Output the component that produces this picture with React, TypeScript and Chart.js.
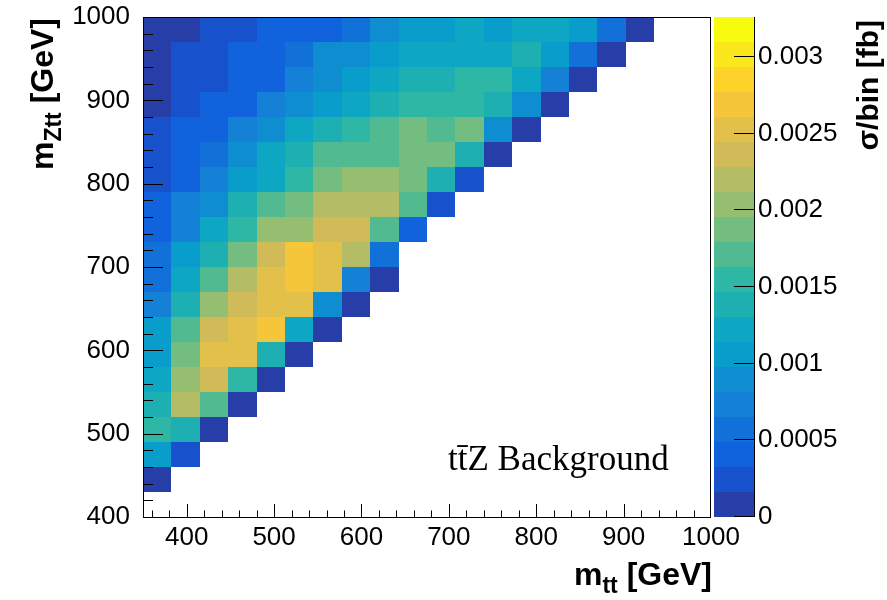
import React, { useEffect, useRef } from "react";
import { Chart, registerables } from "chart.js";

Chart.register(...registerables);

// ---- binning ----
const mttEdges = [350, 382.5, 415, 447.5, 480, 512.5, 545, 577.5, 610, 642.5, 675, 707.5, 740, 772.5, 805, 837.5, 870, 902.5, 935, 967.5, 1000];
const mZttEdges = [400, 430, 460, 490, 520, 550, 580, 610, 640, 670, 700, 730, 760, 790, 820, 850, 880, 910, 940, 970, 1000];

// ---- tick labels ----
const xTickValues = [400, 500, 600, 700, 800, 900, 1000];
const yTickValues = [400, 500, 600, 700, 800, 900, 1000];
const zTickValues = [0, 0.0005, 0.001, 0.0015, 0.002, 0.0025, 0.003];
const zTickLabels = ["0", "0.0005", "0.001", "0.0015", "0.002", "0.0025", "0.003"];
const zMax = 0.00326;
const nContours = 20;

// ---- sigma/bin [fb], one array per m_Ztt bin (bottom to top), entries per m_tt bin ----
const row400: number[] = [];
const row430 = [0.00008];
const row460 = [0.00106, 0.00025];
const row490 = [0.00155, 0.00139, 0.00008];
const row520 = [0.00139, 0.0022, 0.00171, 0.00008];
const row550 = [0.00122, 0.00204, 0.00236, 0.00155, 0.00008];
const row580 = [0.00106, 0.00188, 0.00253, 0.00253, 0.00139, 0.00008];
const row610 = [0.00106, 0.00171, 0.00236, 0.00253, 0.00269, 0.00122, 0.00008];
const row640 = [0.00073, 0.00139, 0.00204, 0.00236, 0.00253, 0.00253, 0.0009, 0.00008];
const row670 = [0.00057, 0.00122, 0.00171, 0.0022, 0.00253, 0.00269, 0.00253, 0.00073, 0.00008];
const row700 = [0.00057, 0.00106, 0.00139, 0.00188, 0.00236, 0.00269, 0.00253, 0.0022, 0.00057];
const row730 = [0.00041, 0.00073, 0.00122, 0.00155, 0.00204, 0.00204, 0.00236, 0.00236, 0.00171, 0.00041];
const row760 = [0.00041, 0.00073, 0.0009, 0.00139, 0.00171, 0.00188, 0.0022, 0.0022, 0.0022, 0.00171, 0.00025];
const row790 = [0.00025, 0.00041, 0.00073, 0.00106, 0.00122, 0.00155, 0.00188, 0.00204, 0.00204, 0.00188, 0.00139, 0.00025];
const row820 = [0.00025, 0.00041, 0.00057, 0.0009, 0.00122, 0.00139, 0.00171, 0.00171, 0.00171, 0.00188, 0.00188, 0.00139, 0.00008];
const row850 = [0.00025, 0.00041, 0.00041, 0.00073, 0.0009, 0.00122, 0.00139, 0.00155, 0.00171, 0.00188, 0.00171, 0.00188, 0.0009, 0.00008];
const row880 = [0.00008, 0.00025, 0.00041, 0.00041, 0.00073, 0.0009, 0.00106, 0.00122, 0.00139, 0.00155, 0.00155, 0.00155, 0.00139, 0.0009, 0.00008];
const row910 = [0.00008, 0.00025, 0.00025, 0.00041, 0.00041, 0.00073, 0.0009, 0.00106, 0.00122, 0.00139, 0.00139, 0.00155, 0.00155, 0.00122, 0.00073, 0.00008];
const row940 = [0.00008, 0.00025, 0.00025, 0.00041, 0.00041, 0.00057, 0.0009, 0.0009, 0.00106, 0.00122, 0.00122, 0.00122, 0.00122, 0.00139, 0.00106, 0.00057, 0.00008];
const row970 = [0.00008, 0.00008, 0.00025, 0.00025, 0.00041, 0.00041, 0.00041, 0.00057, 0.0009, 0.00106, 0.00106, 0.00122, 0.00106, 0.00122, 0.00122, 0.00106, 0.00057, 0.00008];

const rows = [row400, row430, row460, row490, row520, row550, row580, row610, row640, row670, row700, row730, row760, row790, row820, row850, row880, row910, row940, row970];

// ---- ROOT kBird palette ----
const birdStops = [0.0, 0.125, 0.25, 0.375, 0.5, 0.625, 0.75, 0.875, 1.0];
const birdR = [0.2082, 0.0592, 0.078, 0.0232, 0.1802, 0.5301, 0.8186, 0.9956, 0.9764];
const birdG = [0.1664, 0.3599, 0.5041, 0.6419, 0.7178, 0.7492, 0.7328, 0.7862, 0.9832];
const birdB = [0.5293, 0.8684, 0.8385, 0.7914, 0.6425, 0.4662, 0.3499, 0.1968, 0.0539];

function bird(f: number): string {
  let k = 0;
  while (k < birdStops.length - 2 && f > birdStops[k + 1]) k++;
  const t = (f - birdStops[k]) / (birdStops[k + 1] - birdStops[k]);
  const c = (a: number[]) => Math.round(255 * (a[k] + (a[k + 1] - a[k]) * t));
  return `rgb(${c(birdR)},${c(birdG)},${c(birdB)})`;
}
function levelColor(level: number): string {
  const idx = Math.floor(((level + 0.99) * 255) / nContours);
  return bird(Math.min(254, idx) / 254);
}
function valueColor(v: number): string {
  const level = Math.min(nContours - 1, Math.floor(v / (zMax / nContours)));
  return levelColor(level);
}

const SANS = "'Liberation Sans', Arial, Helvetica, sans-serif";
const SERIF = "'Liberation Serif', 'Times New Roman', serif";

type Part = { text: string; size: number; dy: number };
function partsWidth(ctx: CanvasRenderingContext2D, parts: Part[]) {
  let w = 0;
  for (const p of parts) {
    ctx.font = `bold ${p.size}px ${SANS}`;
    w += ctx.measureText(p.text).width;
  }
  return w;
}
function drawParts(ctx: CanvasRenderingContext2D, parts: Part[], xEnd: number) {
  let x = xEnd - partsWidth(ctx, parts);
  ctx.textAlign = "left";
  ctx.textBaseline = "alphabetic";
  for (const p of parts) {
    ctx.font = `bold ${p.size}px ${SANS}`;
    ctx.fillText(p.text, x, p.dy);
    x += ctx.measureText(p.text).width;
  }
}

const heatmapPlugin = {
  id: "heatmap2d",
  beforeDatasetsDraw(chart: any) {
    const { ctx, chartArea, scales } = chart;
    const xs = scales.x;
    const ys = scales.y;
    ctx.save();
    rows.forEach((row: number[], j: number) => {
      const yb = Math.round(ys.getPixelForValue(mZttEdges[j]));
      const yt = Math.round(ys.getPixelForValue(mZttEdges[j + 1]));
      row.forEach((v: number, i: number) => {
        if (!(v > 0)) return;
        const xl = Math.round(xs.getPixelForValue(mttEdges[i]));
        const xr = Math.round(xs.getPixelForValue(mttEdges[i + 1]));
        ctx.fillStyle = valueColor(v);
        ctx.fillRect(xl, yt, xr - xl, yb - yt);
      });
    });

    // frame
    ctx.strokeStyle = "#000";
    ctx.lineWidth = 1;
    ctx.strokeRect(chartArea.left + 0.5, chartArea.top + 0.5, chartArea.right - chartArea.left - 1, chartArea.bottom - chartArea.top);

    // inward ticks
    ctx.beginPath();
    for (let v = 360; v < 1000; v += 20) {
      const px = Math.round(xs.getPixelForValue(v)) + 0.5;
      const len = v % 100 === 0 ? 13 : 6.5;
      ctx.moveTo(px, chartArea.bottom);
      ctx.lineTo(px, chartArea.bottom - len);
    }
    for (let v = 420; v < 1000; v += 20) {
      const py = Math.round(ys.getPixelForValue(v)) + 0.5;
      const len = v % 100 === 0 ? 20 : 10;
      ctx.moveTo(chartArea.left, py);
      ctx.lineTo(chartArea.left + len, py);
    }
    ctx.stroke();
    ctx.restore();
  },
  afterDraw(chart: any) {
    const { ctx, chartArea, scales } = chart;
    const zs = scales.z;
    ctx.save();
    // colour bar
    const bx0 = chartArea.right + 3;
    const bx1 = chartArea.right + 43;
    const dz = zMax / nContours;
    for (let l = 0; l < nContours; l++) {
      const yb = Math.round(zs.getPixelForValue(l * dz));
      const yt = Math.round(zs.getPixelForValue((l + 1) * dz));
      ctx.fillStyle = levelColor(l);
      ctx.fillRect(bx0, yt, bx1 - bx0, yb - yt);
    }
    ctx.strokeStyle = "#000";
    ctx.lineWidth = 1;
    ctx.beginPath();
    ctx.moveTo(bx1 + 0.5, chartArea.top);
    ctx.lineTo(bx1 + 0.5, chartArea.bottom);
    for (const v of zTickValues) {
      const py = Math.round(zs.getPixelForValue(v)) - 0.5;
      ctx.moveTo(bx1, py);
      ctx.lineTo(bx1 - 20, py);
    }
    ctx.stroke();

    ctx.fillStyle = "#000";
    // x title
    ctx.save();
    ctx.translate(0, 585);
    drawParts(ctx, [
      { text: "m", size: 32, dy: 0 },
      { text: "tt", size: 23, dy: 8 },
      { text: " [GeV]", size: 32, dy: 0 },
    ], chartArea.right + 1);
    ctx.restore();

    // y title
    ctx.save();
    ctx.translate(53, 18);
    ctx.rotate(-Math.PI / 2);
    drawParts(ctx, [
      { text: "m", size: 32, dy: 0 },
      { text: "Ztt", size: 23, dy: 8 },
      { text: " [GeV]", size: 32, dy: 0 },
    ], 0);
    ctx.restore();

    // z title
    ctx.save();
    ctx.translate(878, 20);
    ctx.rotate(-Math.PI / 2);
    drawParts(ctx, [{ text: "σ/bin [fb]", size: 30, dy: 0 }], 0);
    ctx.restore();

    // label
    ctx.font = `35px ${SERIF}`;
    ctx.textAlign = "left";
    ctx.textBaseline = "alphabetic";
    ctx.fillText("tt\u0304Z Background", chartArea.left + 305, chartArea.bottom - 47);
    ctx.restore();
  },
};

const hiddenTicks = (len: number) => ({
  display: true,
  drawOnChartArea: false,
  drawTicks: true,
  tickLength: len,
  tickColor: "rgba(0,0,0,0)",
  color: "rgba(0,0,0,0)",
});

export default function App() {
  const ref = useRef<HTMLCanvasElement | null>(null);
  useEffect(() => {
    if (!ref.current) return;
    const tickFont = { family: SANS, size: 26 };
    const chart = new Chart(ref.current, {
      type: "scatter",
      data: { datasets: [{ label: "ttZ", data: [], pointRadius: 0 }] },
      options: {
        animation: false,
        responsive: false,
        devicePixelRatio: 1,
        layout: { padding: { top: 17, left: 0, right: 0, bottom: 0 } },
        plugins: { legend: { display: false }, tooltip: { enabled: false } },
        scales: {
          x: {
            type: "linear",
            position: "bottom",
            min: 350,
            max: 1000,
            afterBuildTicks: (s: any) => { s.ticks = xTickValues.map((v) => ({ value: v })); },
            afterFit: (s: any) => { s.height = 83; },
            grid: hiddenTicks(5),
            border: { display: false },
            ticks: { font: tickFont, color: "#000", padding: 0, maxRotation: 0, autoSkip: false, callback: (v: any) => String(v) },
          },
          y: {
            type: "linear",
            position: "left",
            min: 400,
            max: 1000,
            afterBuildTicks: (s: any) => { s.ticks = yTickValues.map((v) => ({ value: v })); },
            afterFit: (s: any) => { s.width = 143; },
            grid: hiddenTicks(13),
            border: { display: false },
            ticks: { font: tickFont, color: "#000", padding: 0, autoSkip: false, callback: (v: any) => String(v) },
          },
          z: {
            type: "linear",
            position: "right",
            min: 0,
            max: zMax,
            afterBuildTicks: (s: any) => { s.ticks = zTickValues.map((v) => ({ value: v })); },
            afterFit: (s: any) => { s.width = 176; },
            grid: hiddenTicks(47),
            border: { display: false },
            ticks: {
              font: tickFont,
              color: "#000",
              padding: 0,
              autoSkip: false,
              callback: (v: any) => {
                const k = zTickValues.findIndex((t) => Math.abs(t - v) < 1e-9);
                return k >= 0 ? zTickLabels[k] : "";
              },
            },
          },
        },
      },
      plugins: [heatmapPlugin],
    } as any);
    return () => chart.destroy();
  }, []);
  return (
    <div style={{ position: "absolute", left: 0, top: 0, width: 887, height: 600, background: "#fff" }}>
      <canvas ref={ref} width={887} height={600} style={{ display: "block" }} />
    </div>
  );
}
